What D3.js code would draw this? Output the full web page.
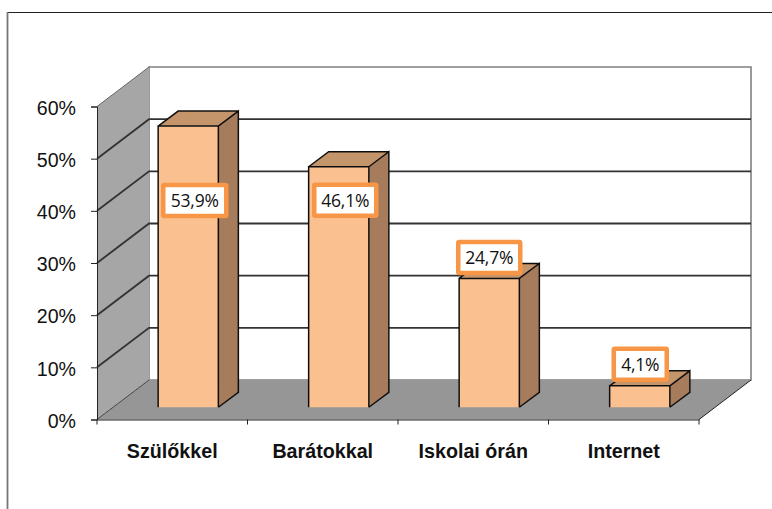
<!DOCTYPE html>
<html>
<head>
<meta charset="utf-8">
<script src="https://cdn.jsdelivr.net/npm/d3@7"></script>
<style>
html, body { margin: 0; padding: 0; background: #fff; overflow: hidden; }
svg { display: block; }
text { font-family: "Liberation Sans", Arial, sans-serif; fill: #111; }
.dataLabel { font-family: "Open Sans", sans-serif; font-size: 17.5px; text-anchor: middle; letter-spacing: -0.2px; }
.catAxis text { font-weight: bold; font-size: 19.7px; }
.valAxis text { font-size: 19.6px; }
</style>
</head>
<body>
<div id="plot"></div>
<script>
var width = 772;
var height = 509;

var categories = ["Szülőkkel", "Barátokkal", "Iskolai órán", "Internet"];
var values = [53.9, 46.1, 24.7, 4.1];
var valueTicks = [0, 10, 20, 30, 40, 50, 60];

// label box centre relative to top middle of the bar front
var labelShiftX = [6.5, 6.5, 0, 0.5];
var labelShiftY = [74.5, 33.5, -21, -21.5];
var labelWidths = [63, 62, 62, 53];

var LEFT = 97;
var RIGHT = 699;
var BASE = 419.5;
var TOP = 106.5;
var DEPTH_X = 52;
var DEPTH_Y = 39.5;
var BAR_DX = 20;
var BAR_DY = 15;

var svg = d3.select("#plot").append("svg")
    .attr("width", width)
    .attr("height", height);

// the source is a slightly soft scan
svg.append("defs").append("filter")
    .attr("id", "soft")
    .append("feGaussianBlur")
    .attr("stdDeviation", 0.6);

var scaleX = d3.scaleBand().domain(categories).range([LEFT, RIGHT]).paddingInner(0.6).paddingOuter(0.3);
var scaleY = d3.scaleLinear().domain([0, 60]).range([BASE, TOP]);

// Outer frame
svg.append("path")
    .attr("d", "M772,12.5H7.5")
    .attr("stroke", "#222").attr("fill", "none");
svg.append("path")
    .attr("d", "M7.5,12V509")
    .attr("stroke", "#777").attr("stroke-width", 1.8).attr("fill", "none");

var plot = svg.append("g").attr("filter", "url(#soft)");

function poly(points) {
    return "M" + points.map(function(p) { return p.join(","); }).join("L") + "Z";
}

// Back wall
plot.append("path")
    .attr("d", poly([
        [LEFT + DEPTH_X, scaleY(60) - DEPTH_Y], [RIGHT + DEPTH_X, scaleY(60) - DEPTH_Y],
        [RIGHT + DEPTH_X, BASE - DEPTH_Y], [LEFT + DEPTH_X, BASE - DEPTH_Y]
    ]))
    .attr("fill", "#fff").attr("stroke", "#808080").attr("stroke-width", 1.6);

// Side wall
plot.append("path")
    .attr("d", poly([
        [LEFT, scaleY(60)], [LEFT + DEPTH_X, scaleY(60) - DEPTH_Y],
        [LEFT + DEPTH_X, BASE - DEPTH_Y], [LEFT, BASE]
    ]))
    .attr("fill", "#a6a6a6");

// Floor
plot.append("path")
    .attr("d", poly([
        [LEFT, BASE], [LEFT + DEPTH_X, BASE - DEPTH_Y],
        [RIGHT + DEPTH_X, BASE - DEPTH_Y], [RIGHT, BASE]
    ]))
    .attr("fill", "#969696");

// Gridlines
plot.selectAll("path.grid")
    .data(valueTicks.filter(function(d) { return d > 0 && d < 60; }))
    .enter().append("path")
    .attr("class", "grid")
    .attr("d", function(d) {
        var y = scaleY(d);
        return "M" + LEFT + "," + y + "L" + (LEFT + DEPTH_X) + "," + (y - DEPTH_Y) + "H" + (RIGHT + DEPTH_X);
    })
    .attr("fill", "none").attr("stroke", "#333").attr("stroke-width", 1.8);

// Wall edges
plot.append("path")
    .attr("d", "M" + LEFT + "," + BASE + "L" + (LEFT + DEPTH_X) + "," + (BASE - DEPTH_Y))
    .attr("stroke", "#444").attr("fill", "none");
plot.append("path")
    .attr("d", "M" + LEFT + "," + scaleY(60) + "L" + (LEFT + DEPTH_X) + "," + (scaleY(60) - DEPTH_Y))
    .attr("stroke", "#666").attr("fill", "none");
plot.append("path")
    .attr("d", "M" + RIGHT + "," + BASE + "L" + (RIGHT + DEPTH_X) + "," + (BASE - DEPTH_Y))
    .attr("stroke", "#222").attr("fill", "none");

// Bars
var barShiftX = (DEPTH_X - BAR_DX) / 2;
var barShiftY = (DEPTH_Y - BAR_DY) / 2;
var bars = plot.selectAll("g.bar")
    .data(values)
    .enter().append("g")
    .attr("class", "bar");

function barBox(d, i) {
    var x0 = scaleX(categories[i]) + barShiftX;
    return {
        x0: x0,
        x1: x0 + scaleX.bandwidth(),
        top: scaleY(d) - barShiftY,
        bottom: BASE - barShiftY
    };
}

bars.append("path")
    .attr("d", function(d, i) {
        var b = barBox(d, i);
        return poly([[b.x1, b.top], [b.x1 + BAR_DX, b.top - BAR_DY], [b.x1 + BAR_DX, b.bottom - BAR_DY], [b.x1, b.bottom]]);
    })
    .attr("fill", "#a67c5b");
bars.append("path")
    .attr("d", function(d, i) {
        var b = barBox(d, i);
        return poly([[b.x0, b.top], [b.x0 + BAR_DX, b.top - BAR_DY], [b.x1 + BAR_DX, b.top - BAR_DY], [b.x1, b.top]]);
    })
    .attr("fill", "#c4956a");
bars.append("path")
    .attr("d", function(d, i) {
        var b = barBox(d, i);
        return poly([[b.x0, b.top], [b.x1, b.top], [b.x1, b.bottom], [b.x0, b.bottom]]);
    })
    .attr("fill", "#fac090");
bars.append("path")
    .attr("d", function(d, i) {
        var b = barBox(d, i);
        return "M" + b.x0 + "," + b.bottom + "V" + b.top + "H" + b.x1 + "V" + b.bottom +
            "M" + b.x1 + "," + b.top + "l" + BAR_DX + "," + (-BAR_DY) + "V" + (b.bottom - BAR_DY) + "L" + b.x1 + "," + b.bottom +
            "M" + b.x0 + "," + b.top + "l" + BAR_DX + "," + (-BAR_DY) + "H" + (b.x1 + BAR_DX);
    })
    .attr("fill", "none").attr("stroke", "#111").attr("stroke-width", 1.5);

// Axes
var valAxis = d3.axisLeft(scaleY)
    .tickValues(valueTicks)
    .tickSize(6)
    .tickPadding(15)
    .tickFormat(function(d) { return d + "%"; });
var valG = svg.append("g").attr("class", "valAxis")
    .attr("transform", "translate(" + LEFT + ",0)")
    .call(valAxis);
valG.selectAll("line").attr("stroke", "#222");
valG.select(".domain").attr("stroke", "#222");
valG.selectAll("text").attr("transform", "translate(0,1.5)");

var catAxis = d3.axisBottom(scaleX).tickSize(0).tickPadding(24.5);
var catG = svg.append("g").attr("class", "catAxis")
    .attr("transform", "translate(0," + BASE + ")")
    .call(catAxis);
catG.select(".domain").attr("stroke", "#222");
catG.selectAll(".tick text").attr("fill", "#111");

// Separators between categories on the x axis
catG.selectAll("line.sep")
    .data(d3.range(categories.length + 1))
    .enter().append("line")
    .attr("class", "sep")
    .attr("x1", function(d) { return LEFT + d * scaleX.step(); })
    .attr("x2", function(d) { return LEFT + d * scaleX.step(); })
    .attr("y1", 0).attr("y2", 5)
    .attr("stroke", "#222");

// Value labels
var labels = svg.selectAll("g.label")
    .data(values)
    .enter().append("g")
    .attr("class", "label")
    .attr("transform", function(d, i) {
        var b = barBox(d, i);
        return "translate(" + ((b.x0 + b.x1) / 2 + labelShiftX[i]) + "," + (b.top + labelShiftY[i]) + ")";
    });

labels.append("rect")
    .attr("x", function(d, i) { return -labelWidths[i] / 2; })
    .attr("y", -15.5)
    .attr("width", function(d, i) { return labelWidths[i]; })
    .attr("height", 31)
    .attr("rx", 1)
    .attr("fill", "#fff")
    .attr("stroke", "#f79646")
    .attr("stroke-width", 4.5);

labels.append("text")
    .attr("class", "dataLabel")
    .attr("dy", "0.36em")
    .text(function(d) { return String(d).replace(".", ",") + "%"; });
</script>
</body>
</html>
